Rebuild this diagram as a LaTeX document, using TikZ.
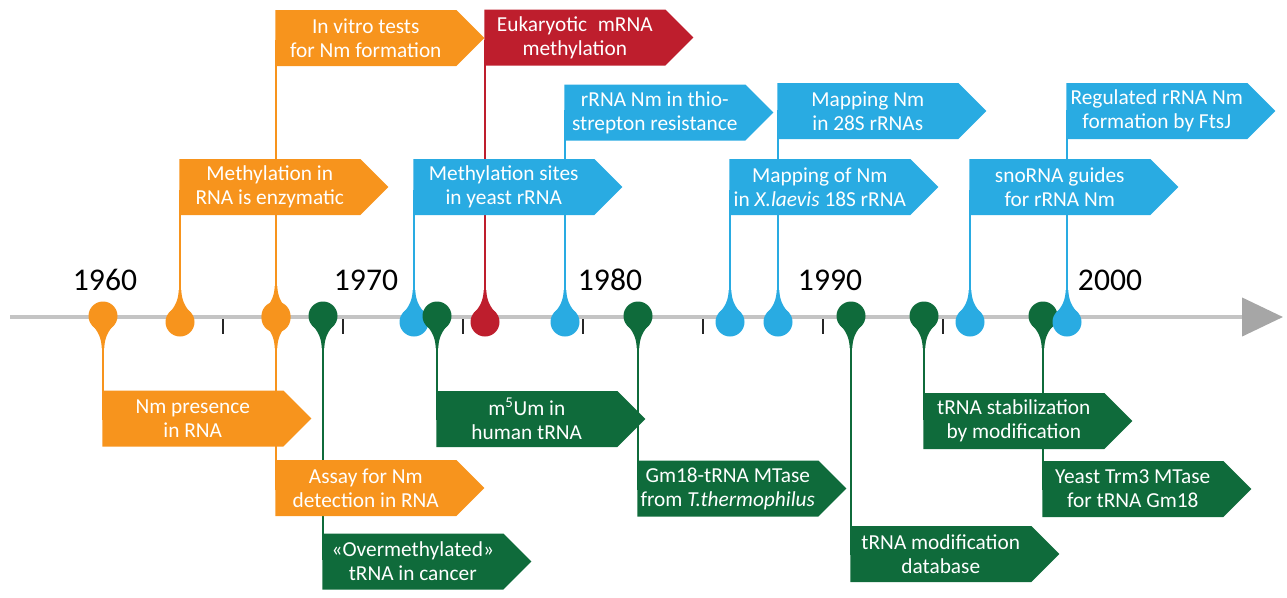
\documentclass[tikz,border=0pt]{standalone}
\usepackage{fontspec}
\setmainfont{Carlito}
\usetikzlibrary{arrows.meta, shapes.symbols}

\definecolor{nmorange}{HTML}{F7941D}
\definecolor{nmred}{HTML}{BE1E2D}
\definecolor{nmblue}{HTML}{29ABE2}
\definecolor{nmgreen}{HTML}{0F6B3B}
\definecolor{axisgray}{HTML}{C4C4C4}
\definecolor{headgray}{HTML}{A6A6A6}

\begin{document}
\begin{tikzpicture}[x=0.75pt, y=-0.75pt,
    flag/.style = {signal, signal to=east, signal pointer angle=90, anchor=west,
                   minimum width=156.75pt, minimum height=42pt, inner sep=0pt,
                   text=white, align=center, font=\fontsize{16}{18}\selectfont},
    stem/.style = {line width=2pt},
    year/.style = {font=\fontsize{23.7}{28}\selectfont, inner sep=0pt},
    yeartick/.style = {line width=1.7pt, black!85},
    pics/pindown/.style = {code={
        \fill (0,-1) circle[radius=14.5];
        \fill (-11,8) .. controls (-5,14) and (-1.6,21) .. (-1.3,31)
              -- (1.3,31) .. controls (1.6,21) and (5,14) .. (11,8) -- cycle;}},
    pics/pinup/.style = {code={
        \fill (0,5) circle[radius=14.5];
        \fill (-11,-4) .. controls (-5,-10) and (-1.6,-17) .. (-1.3,-27)
              -- (1.3,-27) .. controls (1.6,-17) and (5,-10) .. (11,-4) -- cycle;}} ]

\useasboundingbox (0,0) rectangle (1287,597);

% time axis
\coordinate (tl-start) at (10,317);
\coordinate (tl-end)   at (1283,317);
\draw[axisgray, line width=3.2pt,
      -{Triangle[length=30.75pt, width=28.5pt, color=headgray]}] (tl-start) -- (tl-end);
\foreach \x in {223,343,...,1063}
    \draw[yeartick] (\x,319) -- (\x,334);
\foreach \x/\yr in {105/1960, 366/1970, 610/1980, 830/1990, 1110/2000}
    \node[year] (y\yr) at (\x,280) {\yr};

% events on the axis
\coordinate (p1960) at (103,317);
\coordinate (p1963) at (180,317);
\coordinate (p1967) at (276,317);
\coordinate (p1969) at (323,317);
\coordinate (p1973) at (414,317);
\coordinate (p1974) at (437,317);
\coordinate (p1976) at (485,317);
\coordinate (p1979) at (565,317);
\coordinate (p1982) at (638,317);
\coordinate (p1986) at (730,317);
\coordinate (p1988) at (778,317);
\coordinate (p1991) at (851,317);
\coordinate (p1994) at (924,317);
\coordinate (p1996) at (970,317);
\coordinate (p1999) at (1043,317);
\coordinate (p2000) at (1067,317);

% stems first, boxes on top
\draw[stem, nmorange] (p1960) -- (p1960 |- 0,420);
\draw[stem, nmorange] (p1963) -- (p1963 |- 0,190);
\draw[stem, nmorange] (p1967) -- (p1967 |- 0,40);
\draw[stem, nmorange] (p1967) -- (p1967 |- 0,490);
\draw[stem, nmgreen]  (p1969) -- (p1969 |- 0,560);
\draw[stem, nmblue]   (p1973) -- (p1973 |- 0,190);
\draw[stem, nmgreen]  (p1974) -- (p1974 |- 0,420);
\draw[stem, nmred]    (p1976) -- (p1976 |- 0,40);
\draw[stem, nmblue]   (p1979) -- (p1979 |- 0,110);
\draw[stem, nmgreen]  (p1982) -- (p1982 |- 0,490);
\draw[stem, nmblue]   (p1986) -- (p1986 |- 0,190);
\draw[stem, nmblue]   (p1988) -- (p1988 |- 0,110);
\draw[stem, nmgreen]  (p1991) -- (p1991 |- 0,555);
\draw[stem, nmgreen]  (p1994) -- (p1994 |- 0,420);
\draw[stem, nmblue]   (p1996) -- (p1996 |- 0,190);
\draw[stem, nmgreen]  (p1999) -- (p1999 |- 0,490);
\draw[stem, nmblue]   (p2000) -- (p2000 |- 0,110);

\node[flag, fill=nmorange] (presence)     at (102,418.5)  {Nm presence\\in RNA};
\node[flag, fill=nmorange] (enzymatic)    at (179,187)    {Methylation in\\RNA is enzymatic};
\node[flag, fill=nmorange] (vitro)        at (275,38)     {In vitro tests\\for Nm formation};
\node[flag, fill=nmorange] (assay)        at (275,488)    {Assay for Nm\\detection in RNA};
\node[flag, fill=nmgreen]  (overmeth)     at (322,561.5)  {«Overmethylated»\\tRNA in cancer};
\node[flag, fill=nmblue]   (yeastsites)   at (413,187)    {Methylation sites\\in yeast rRNA};
\node[flag, fill=nmgreen]  (humantrna)    at (436,419)    {m\textsuperscript{5}Um in\\human tRNA};
\node[flag, fill=nmred]    (eukaryotic)   at (484,37.5)   {Eukaryotic\enspace mRNA\\methylation};
\node[flag, fill=nmblue]   (thiostrepton) at (564,112.5)  {rRNA Nm in thio-\\strepton resistance};
\node[flag, fill=nmgreen]  (gmtase)       at (637,488.5)  {Gm18-tRNA MTase\\from \textit{T.thermophilus}};
\node[flag, fill=nmblue]   (laevis)       at (729,187)    {Mapping of Nm\\in \textit{X.laevis} 18S rRNA};
\node[flag, fill=nmblue]   (mapping)      at (777,111)    {Mapping Nm\\in 28S rRNAs};
\node[flag, fill=nmgreen]  (database)     at (850,554)    {tRNA modification\\database};
\node[flag, fill=nmgreen]  (stabilization) at (923,421)   {tRNA stabilization\\by modification};
\node[flag, fill=nmblue]   (snorna)       at (969,187)    {snoRNA guides\\for rRNA Nm};
\node[flag, fill=nmgreen]  (trmthree)     at (1042,489)   {Yeast Trm3 MTase\\for tRNA Gm18};
\node[flag, fill=nmblue]   (ftsj)         at (1066,111)   {Regulated rRNA Nm\\formation by FtsJ};

% pin heads
\pic[nmorange] at (p1960) {pindown};
\pic[nmorange] at (p1963) {pinup};
\pic[nmorange] at (p1967) {pindown};
\pic[nmorange] at ([yshift=3pt]p1967) {pinup};
\pic[nmgreen]  at (p1969) {pindown};
\pic[nmblue]   at (p1973) {pinup};
\pic[nmgreen]  at (p1974) {pindown};
\pic[nmred]    at (p1976) {pinup};
\pic[nmblue]   at (p1979) {pinup};
\pic[nmgreen]  at (p1982) {pindown};
\pic[nmblue]   at (p1986) {pinup};
\pic[nmblue]   at (p1988) {pinup};
\pic[nmgreen]  at (p1991) {pindown};
\pic[nmgreen]  at (p1994) {pindown};
\pic[nmblue]   at (p1996) {pinup};
\pic[nmgreen]  at (p1999) {pindown};
\pic[nmblue]   at (p2000) {pinup};
\end{tikzpicture}
\end{document}
